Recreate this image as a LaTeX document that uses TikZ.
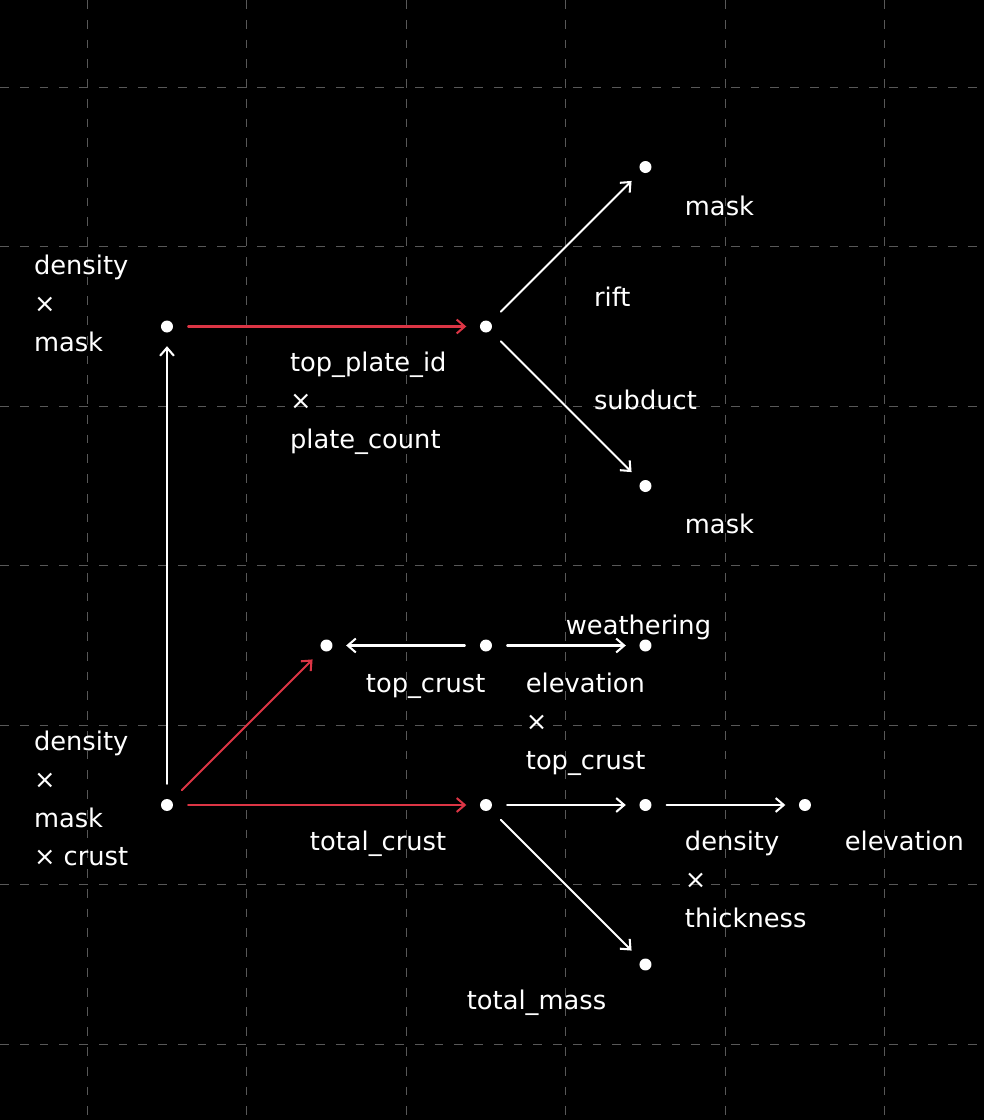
\documentclass[tikz,border=0pt]{standalone}
\usepackage{fontspec}
\setmainfont{DejaVu Sans}
\usetikzlibrary{arrows.meta}
\definecolor{edgered}{RGB}{220,53,69}
\definecolor{gridgray}{RGB}{88,88,88}
\begin{document}
\begin{tikzpicture}[x=2.18cm, y=2.18cm, >={Straight Barb[length=1.1mm,width=1.9mm]},
  font=\fontsize{10}{15}\selectfont, line join=round, line cap=round,
  dot/.style={circle, fill=white, inner sep=0pt, minimum size=1.64mm},
  lbl/.style={anchor=base west, align=left, inner sep=0pt, text=white, xshift=0.2mm, yshift=-0.3mm},
  link/.style={->, white, line width=0.8pt, shorten >=1.8mm, shorten <=2mm},
  hot/.style={link, edgered}]
	\fill[black] (-1.047,1.047) rectangle (5.122,-5.975);
	\useasboundingbox (-1.047,1.047) rectangle (5.122,-5.975);
	% grid
	\foreach \x in {-0.5,0.5,...,4.5}
		\draw[gridgray, line width=0.4pt, line cap=butt, dash pattern=on 1.2mm off 1.5mm] (\x,1.047) -- (\x,-5.975);
	\foreach \y in {0.5,-0.5,...,-5.5}
		\draw[gridgray, line width=0.4pt, line cap=butt, dash pattern=on 1.2mm off 1.5mm] (-1.047,\y) -- (5.122,\y);
	% dots
	\node[dot] (A) at (0,-1) {};
	\node[dot] (B) at (2,-1) {};
	\node[dot] (C) at (3,0) {};
	\node[dot] (D) at (3,-2) {};
	\node[dot] (E) at (1,-3) {};
	\node[dot] (F) at (2,-3) {};
	\node[dot] (G) at (3,-3) {};
	\node[dot] (H) at (0,-4) {};
	\node[dot] (I) at (2,-4) {};
	\node[dot] (J) at (3,-4) {};
	\node[dot] (K) at (4,-4) {};
	\node[dot] (L) at (3,-5) {};
	% edges
	\draw[link] (H) -- (A);
	\draw[hot] (A) -- (B);
	\draw[link] (B) -- (C);
	\draw[link] (B) -- (D);
	\draw[hot] (H) -- (E);
	\draw[link] (F) -- (E);
	\draw[link] (F) -- (G);
	\draw[hot] (H) -- (I);
	\draw[link] (I) -- (J);
	\draw[link] (J) -- (K);
	\draw[link] (I) -- (L);
	% labels (base = last line)
	\node[lbl] at (-0.846,-1.141) {density\\×\\mask};
	\node[lbl] at (0.759,-1.749) {top\_plate\_id\\×\\plate\_count};
	\node[lbl] at (2.665,-0.859) {rift};
	\node[lbl] at (2.665,-1.505) {subduct};
	\node[lbl] at (3.235,-0.288) {mask};
	\node[lbl] at (3.235,-2.282) {mask};
	\node[lbl] at (2.489,-2.915) {weathering};
	\node[lbl] at (1.235,-3.279) {top\_crust};
	\node[lbl] at (2.238,-3.762) {elevation\\×\\top\_crust};
	\node[lbl] at (0.884,-4.270) {total\_crust};
	\node[lbl] at (3.235,-4.753) {density\\×\\thickness};
	\node[lbl] at (4.238,-4.270) {elevation};
	\node[lbl] at (-0.846,-4.367) {density\\×\\mask\\× crust};
	\node[lbl] at (1.868,-5.266) {total\_mass};
\end{tikzpicture}
\end{document}
